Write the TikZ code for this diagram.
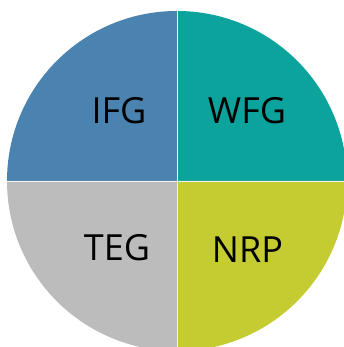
\documentclass[tikz,border=0pt]{standalone}
\usepackage{fontspec}
\setmainfont{Open Sans}
\definecolor{qblue}{HTML}{4A82B0}
\definecolor{qteal}{HTML}{0DA39D}
\definecolor{qgray}{HTML}{BBBCBB}
\definecolor{qlime}{HTML}{C5CC32}
\tikzset{quad/.style={draw=white!90!gray, line width=0.8pt},
  lbl/.style={inner sep=0pt, font=\fontsize{36}{40}\selectfont, text=black}}
\begin{document}
\begin{tikzpicture}[x=1pt,y=1pt]
\useasboundingbox (0,0) rectangle (344,347);
\begin{scope}
\clip (0,0) rectangle (344,347);
\coordinate (c) at (177,166);
\fill[qblue] (c) -- ++(-170,0) arc[start angle=180,end angle=90,radius=170] -- cycle;
\fill[qteal] (c) -- ++(0,170) arc[start angle=90,end angle=0,radius=170] -- cycle;
\fill[qlime] (c) -- ++(170,0) arc[start angle=0,end angle=-90,radius=170] -- cycle;
\fill[qgray] (c) -- ++(0,-170) arc[start angle=-90,end angle=-180,radius=170] -- cycle;
\draw[quad] ([xshift=-170pt]c) -- ([xshift=170pt]c);
\draw[quad] ([yshift=-170pt]c) -- ([yshift=170pt]c);
\end{scope}
\node[lbl] (ifg) at (119,236) {IFG};
\node[lbl] (wfg) at (247,236) {WFG};
\node[lbl] (teg) at (117,99) {TEG};
\node[lbl] (nrp) at (247.5,97) {NRP};
\end{tikzpicture}
\end{document}
